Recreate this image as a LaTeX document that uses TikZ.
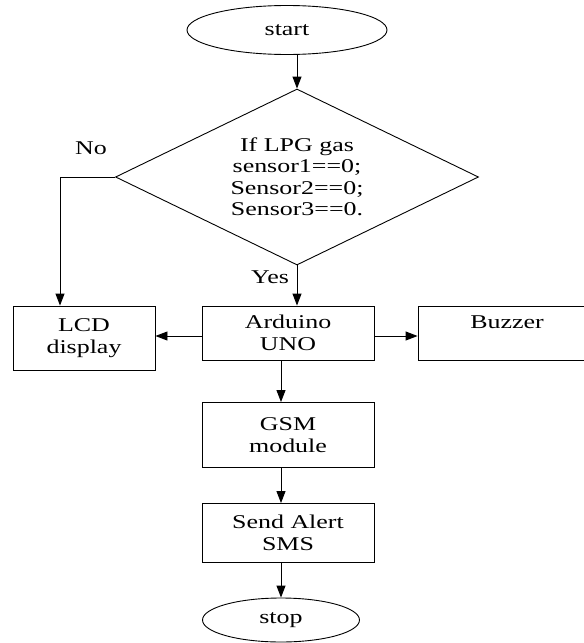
\documentclass[tikz,border=0pt]{standalone}
\usepackage{fontspec}
\setmainfont{Liberation Serif}[FakeStretch=1.33]
\usetikzlibrary{shapes.geometric,arrows.meta}

\begin{document}
\begin{tikzpicture}[x=1pt,y=-1pt,line width=0.9pt,
    font=\fontsize{19.5}{21.5}\selectfont,
    box/.style={draw,rectangle,align=center,inner sep=0pt},
    arr/.style={-{Triangle[length=12pt,width=9pt]}}]

  \clip (0,0) rectangle (584,643);

  \begin{scope}[every node/.style={draw, ellipse, inner sep=0pt}]
    \node (start) at (287,30)  [minimum width=200pt, minimum height=49pt] {start};
    \node (stop)  at (281,620) [minimum width=157pt, minimum height=44pt] {stop};
  \end{scope}

  \node (cond) at (297,177) [draw, diamond, aspect=2, inner sep=0pt, align=center,
    minimum width=363pt, minimum height=176pt]
    {If LPG gas\\ sensor1==0;\\ Sensor2==0;\\ Sensor3==0.};

  \begin{scope}[every node/.style={box}]
    \node (lcd) at (84,338)  [minimum width=142pt, minimum height=64pt] {LCD\\ display};
    \node (ard) at (288,333) [minimum width=172pt, minimum height=54pt] {Arduino\\ UNO};
    \node (buz) at (507,333) [minimum width=178pt, minimum height=54pt] {Buzzer\\ \mbox{}};
    \node (gsm) at (288,435) [minimum width=172pt, minimum height=65pt] {GSM\\ module};
    \node (sms) at (288,533) [minimum width=172pt, minimum height=59pt] {Send Alert\\ SMS};
  \end{scope}

  \node (no)  at (91,148)  {No};
  \node (yes) at (270,277) {Yes};

  \draw[arr] (cond.north |- start.south) -- (cond.north);
  \draw[arr] (cond.south) -- (cond.south |- ard.north);
  \draw[arr] (cond.west) -| ([xshift=-24pt]lcd.north);
  \draw[arr] ([yshift=-3pt]ard.west) -- ([yshift=-3pt]ard.west -| lcd.east);
  \draw[arr] ([yshift=-3pt]ard.east) -- ([yshift=-3pt]ard.east -| buz.west);
  \draw[arr] (stop.north |- ard.south) -- (stop.north |- gsm.north);
  \draw[arr] (stop.north |- gsm.south) -- (stop.north |- sms.north);
  \draw[arr] (stop.north |- sms.south) -- (stop.north);

\end{tikzpicture}
\end{document}
